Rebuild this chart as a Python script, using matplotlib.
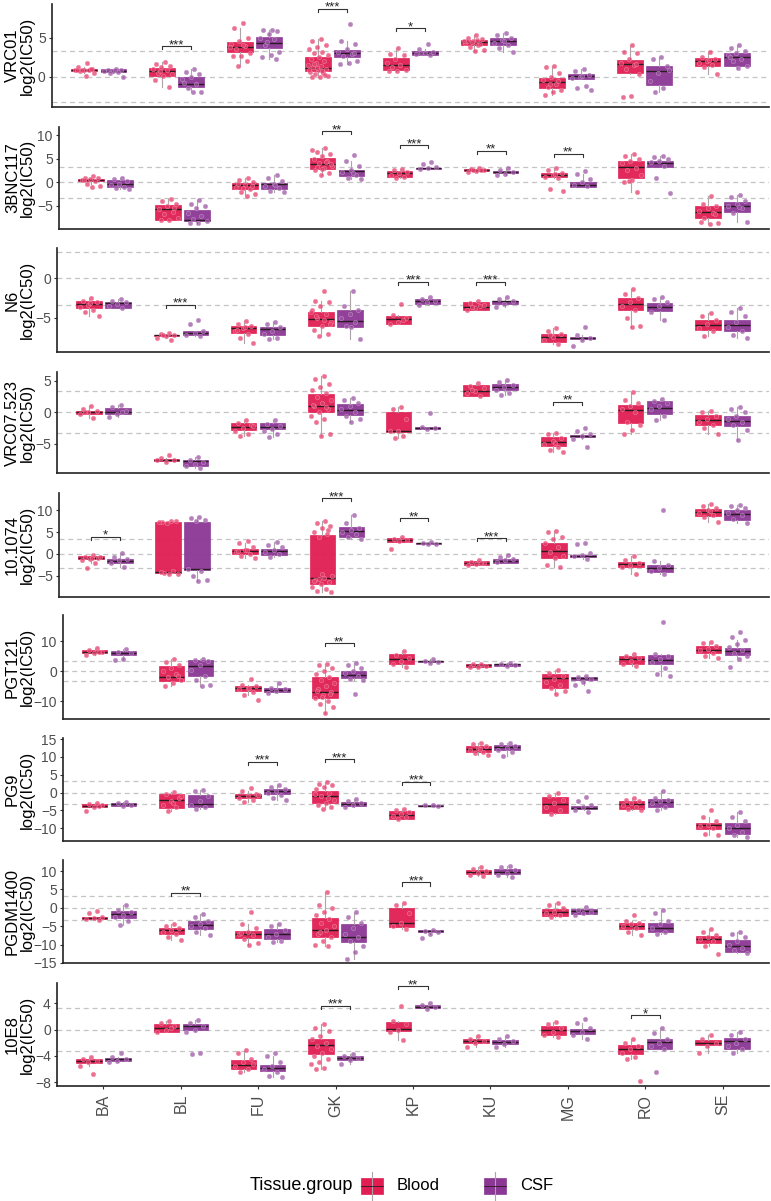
import matplotlib
matplotlib.use("Agg")
import matplotlib.pyplot as plt
import numpy as np
from matplotlib.patches import Rectangle

plt.rcParams['font.family'] = ['Liberation Sans', 'DejaVu Sans']

groups = ['BA', 'BL', 'FU', 'GK', 'KP', 'KU', 'MG', 'RO', 'SE']
tissues = ['Blood', 'CSF']
colors = {'Blood': '#E11D52', 'CSF': '#8B3794'}
cutoff = np.log2(10)

# ---------------- VRC01 ----------------
vrc01_blood_box = [(0.75, 0.85, 0.95), (0.1, 0.77, 1.15), (3.2, 3.85, 4.4), (0.65, 1.07, 2.5), (0.85, 1.5, 2.35),
                   (4.0, 4.4, 4.7), (-1.5, -0.65, -0.2), (0.5, 1.6, 2.15), (1.4, 2.0, 2.35)]
vrc01_csf_box = [(0.6, 0.75, 0.95), (-1.4, -0.95, -0.1), (3.7, 4.35, 5.1), (2.5, 3.0, 3.4), (2.8, 3.0, 3.25),
                 (4.0, 4.5, 4.9), (-0.25, 0.05, 0.35), (-1.05, 0.7, 1.4), (1.4, 2.5, 3.0)]
vrc01_blood_pts = [[1.7, 1.2, 1.0, 0.9, 0.85, 0.8, 0.7, 0.5, 0.1, 0.9, 0.95, 0.8],
                   [1.9, 1.6, 1.4, 1.2, 1.0, 0.8, 0.5, 0.3, 0.1, -0.5, -1.4, 0.7],
                   [6.9, 6.2, 5.0, 4.5, 4.2, 3.9, 3.5, 3.0, 2.6, 2.6, 2.0, 1.4, 3.8, 4.1],
                   [4.8, 4.5, 4.0, 3.8, 3.5, 3.2, 3.0, 2.8, 2.5, 2.2, 2.0, 1.8, 1.5, 1.3, 1.2, 1.0, 0.8, 0.6, 0.5, 0.3,
                    0.1, 0.0, -0.1, 0.2, 1.1, 0.9, 0.7, 1.6],
                   [3.7, 2.9, 2.8, 2.2, 1.8, 1.5, 1.2, 0.9, 0.7, 0.7],
                   [5.3, 5.0, 4.8, 4.5, 4.3, 4.0, 3.8, 3.4, 3.3, 4.6, 4.2, 4.4, 4.5, 4.7],
                   [1.3, 1.2, 0.5, 0.0, -0.5, -0.9, -1.3, -1.7, -2.0, -2.3, -0.6, -1.0],
                   [4.0, 3.2, 3.0, 2.2, 1.8, 1.5, 1.0, 0.3, -2.5, -2.6, 1.6],
                   [3.2, 2.5, 2.2, 2.0, 1.7, 1.5, 1.2, 0.3, 2.1]]
vrc01_csf_pts = [[1.0, 0.9, 0.8, 0.75, 0.7, 0.6, 0.4, -0.05, 0.85],
                 [1.0, 0.6, 0.3, 0.0, -0.3, -1.0, -1.5, -2.0, -2.0, -0.8],
                 [6.0, 6.0, 5.8, 5.5, 5.0, 4.8, 4.0, 3.2, 2.8, 2.5, 2.2, 4.4],
                 [6.7, 4.5, 4.2, 3.5, 3.1, 2.9, 2.6, 2.0, 1.8, 1.6, 3.0],
                 [4.2, 3.5, 3.1, 3.0, 2.9, 2.8, 3.0],
                 [5.6, 5.3, 5.0, 4.7, 4.3, 4.0, 3.6, 3.2, 4.5],
                 [1.0, 0.7, 0.2, 0.0, -0.2, -1.2, -1.5, -1.7, 0.1],
                 [2.5, 2.2, 1.3, 0.5, -0.6, -1.5, -2.0, 0.8],
                 [4.0, 3.6, 3.3, 3.0, 2.7, 2.3, 2.0, 1.4, 1.1, 2.5]]
vrc01_sig = [('BL', '***', 3.9), ('GK', '***', 8.7), ('KP', '*', 6.2)]

# ---------------- 3BNC117 ----------------
bnc_blood_box = [(0.3, 0.5, 0.7), (-8.0, -5.7, -4.8), (-1.5, -0.55, -0.2), (2.8, 3.9, 5.1), (1.05, 1.9, 2.45),
                 (2.3, 2.5, 2.75), (1.05, 1.55, 1.9), (0.85, 3.3, 4.45), (-7.6, -6.3, -5.1)]
bnc_csf_box = [(-0.9, -0.4, 0.5), (-8.2, -8.0, -5.85), (-1.4, -0.45, -0.1), (1.4, 2.45, 2.7), (2.85, 2.95, 3.05),
               (2.05, 2.2, 2.45), (-0.9, -0.55, 0.15), (3.3, 4.0, 4.45), (-6.3, -5.1, -4.1)]
bnc_blood_pts = [[1.3, 1.0, 0.8, 0.6, 0.5, 0.3, -0.3, -0.8, -0.9, 0.4],
                 [-3.6, -4.0, -4.5, -5.0, -5.7, -6.2, -6.8, -7.5, -8.0, -8.0, -5.5],
                 [1.0, 0.5, 0.0, -0.5, -1.0, -1.5, -2.0, -2.5, -3.0, -0.3, -0.8, -1.2],
                 [7.3, 6.5, 6.0, 5.5, 5.0, 4.5, 4.0, 3.5, 3.0, 2.5, 2.0, 1.5, 6.8, 4.2, 3.2, 3.8, 2.8],
                 [2.8, 2.5, 2.2, 1.9, 1.5, 1.2, 1.0],
                 [3.0, 2.8, 2.6, 2.4, 2.2, 2.5, 2.7],
                 [3.0, 2.5, 2.0, 1.5, 1.2, 1.0, -1.4, -1.9, 1.7],
                 [6.0, 5.5, 5.0, 4.5, 4.0, 3.0, 2.5, 1.5, 0.5, 0.0, -2.0, 0.2],
                 [-2.9, -4.5, -5.0, -5.5, -6.0, -6.5, -7.5, -8.7, -8.8, -8.5, -6.8]]
bnc_csf_pts = [[1.0, 0.7, 0.2, -0.3, -0.6, -0.9, -1.2, -1.5],
               [-3.8, -4.5, -5.0, -5.5, -6.5, -7.2, -7.8, -8.2, -8.6, -8.6],
               [1.6, 0.8, 0.3, -0.3, -0.8, -1.3, -1.8, -2.0, -0.5],
               [5.8, 4.5, 3.5, 2.5, 2.2, 1.5, 1.0, 0.6, 2.0],
               [4.3, 3.8, 3.3, 3.0, 2.9],
               [3.0, 2.6, 2.2, 1.8, 1.6],
               [2.3, 1.7, 0.7, 0.0, -0.5, -0.8],
               [5.5, 5.3, 5.0, 4.5, 4.2, 3.5, 1.0, -2.3],
               [-2.7, -3.2, -4.0, -4.5, -5.0, -5.5, -6.5, -8.5, -5.2]]
bnc_sig = [('GK', '**', 10.8), ('KP', '***', 7.8), ('KU', '**', 6.7), ('MG', '**', 6.0)]

# ---------------- N6 ----------------
n6_blood_box = [(-3.75, -3.2, -2.9), (-7.3, -7.2, -7.15), (-6.9, -6.3, -6.0), (-6.0, -5.1, -4.3), (-5.7, -5.1, -4.8),
                (-4.05, -3.55, -3.0), (-8.05, -7.4, -7.0), (-4.0, -3.2, -2.5), (-6.5, -5.85, -5.25)]
n6_csf_box = [(-3.75, -3.1, -3.0), (-7.1, -6.9, -6.7), (-7.1, -6.45, -6.1), (-6.1, -5.35, -4.05), (-3.2, -2.8, -2.55),
              (-3.2, -2.9, -2.8), (-7.6, -7.5, -7.4), (-4.15, -3.55, -3.1), (-6.7, -5.9, -5.2)]
n6_blood_pts = [[-2.5, -2.8, -3.0, -3.3, -3.6, -4.0, -4.3, -4.7, -3.1],
                [-6.9, -7.0, -7.2, -7.3, -7.5, -7.8, -7.2],
                [-5.4, -5.8, -6.0, -6.3, -6.6, -7.0, -7.5, -8.2, -6.2, -6.5],
                [-1.6, -2.8, -3.0, -3.5, -4.0, -4.5, -5.0, -5.5, -6.0, -6.5, -7.0, -7.3, -4.2, -5.2, -4.8, -5.8],
                [-3.2, -4.6, -5.0, -5.5, -5.8, -5.2],
                [-2.8, -3.1, -3.4, -3.7, -4.0, -3.5, -3.6],
                [-6.3, -6.6, -7.0, -7.4, -7.8, -8.3, -7.2],
                [-1.3, -2.0, -2.5, -3.0, -3.5, -4.0, -5.0, -6.0, -6.1],
                [-4.4, -4.8, -5.3, -5.8, -6.3, -6.7, -7.3]]
n6_csf_pts = [[-2.6, -2.8, -3.0, -3.2, -3.5, -3.7],
              [-5.3, -5.8, -6.7, -6.9, -7.1, -7.3],
              [-5.5, -5.8, -6.2, -6.6, -7.0, -7.5, -7.7],
              [-1.6, -3.5, -4.0, -4.5, -5.0, -5.5, -6.0, -7.7, -6.2],
              [-2.4, -2.6, -2.8, -3.0, -3.3],
              [-2.3, -2.6, -2.9, -3.2, -3.6],
              [-6.2, -7.2, -7.5, -7.8, -8.5],
              [-2.4, -2.6, -3.0, -3.5, -4.3, -5.3],
              [-3.7, -4.3, -4.8, -5.5, -6.2, -6.7, -7.2, -7.5]]
n6_sig = [('BL', '***', -3.3), ('KP', '***', -0.4), ('KU', '***', -0.4)]

# ---------------- VRC07.523 ----------------
vrc07_blood_box = [(-0.25, 0.0, 0.25), (-7.75, -7.6, -7.4), (-2.8, -2.25, -1.6), (0.1, 1.0, 2.85), (-3.05, -2.9, 0.1),
                   (2.6, 3.4, 4.3), (-5.4, -4.75, -3.95), (-1.6, 0.45, 1.15), (-2.0, -1.2, -0.4)]
vrc07_csf_box = [(-0.25, 0.1, 0.65), (-8.45, -7.7, -7.5), (-2.7, -2.25, -1.75), (-0.4, 0.35, 1.4), (-2.6, -2.4, -2.25),
                 (3.6, 4.05, 4.45), (-3.85, -3.75, -3.6), (-0.25, 0.75, 1.8), (-2.15, -1.3, -0.5)]
vrc07_blood_pts = [[1.0, 0.6, 0.3, 0.0, -0.3, -0.9, 0.1],
                   [-6.8, -7.3, -7.6, -7.8, -7.5],
                   [-1.2, -1.6, -2.0, -2.5, -3.0, -3.5, -3.7, -2.2],
                   [5.7, 5.3, 4.5, 4.0, 3.5, 3.0, 2.5, 2.0, 1.5, 1.0, 0.5, 0.0, -0.5, -1.0, -1.5, -3.5, -3.8, 1.2, 0.8],
                   [0.8, 0.5, -1.0, -2.9, -3.0, -3.8, -4.1],
                   [4.6, 4.2, 3.8, 3.4, 3.0, 2.6, 3.6],
                   [-3.2, -3.5, -4.0, -4.5, -5.0, -5.5, -6.0, -6.3, -4.8],
                   [3.2, 2.0, 1.5, 1.0, 0.5, 0.0, -1.5, -2.0, -2.8, -3.4],
                   [0.3, 0.0, -0.5, -1.0, -1.5, -2.0, -2.5, -3.5]]
vrc07_csf_pts = [[1.1, 0.8, 0.3, -0.2, -0.7, 0.1],
                 [-7.1, -7.5, -7.8, -8.1, -8.5, -8.8],
                 [-1.2, -1.8, -2.2, -2.6, -3.0, -3.5, -3.9],
                 [2.3, 2.0, 1.5, 1.0, 0.5, 0.0, -0.6, -1.1, -1.5],
                 [-0.1, -2.3, -2.5, -2.6],
                 [5.2, 4.8, 4.4, 4.0, 3.5, 3.0, 2.8],
                 [-2.5, -3.0, -3.5, -3.8, -4.2, -5.5],
                 [2.2, 1.8, 1.5, 1.0, 0.5, -0.5, -1.2],
                 [0.8, 0.5, 0.0, -0.5, -1.0, -1.5, -2.0, -2.8, -4.4]]
vrc07_sig = [('MG', '**', 1.7)]

# ---------------- 10.1074 ----------------
ab1074_blood_box = [(-1.25, -0.85, -0.45), (-4.45, -4.1, 7.45), (0.0, 0.75, 1.15), (-6.9, -5.6, 4.25), (2.85, 3.2, 3.6),
                    (-2.5, -2.0, -1.6), (-0.85, 0.75, 2.6), (-3.1, -2.4, -1.8), (8.8, 9.6, 10.4)]
ab1074_csf_box = [(-2.15, -1.55, -1.1), (-3.6, -3.5, 7.45), (-0.2, 0.75, 1.15), (4.0, 5.3, 6.1), (2.2, 2.45, 2.6),
                  (-2.0, -1.55, -1.15), (-0.6, -0.4, -0.25), (-4.1, -3.3, -2.55), (7.85, 9.2, 10.15)]
ab1074_blood_pts = [[-0.3, -0.6, -0.9, -1.2, -1.5, -2.0, -3.3, -0.8, -1.0],
                    [7.5, 7.3, 7.6, 7.2, 7.4, -4.0, -4.3, -4.6, -4.5, -4.2],
                    [3.0, 2.5, 1.5, 1.0, 0.5, 0.0, -0.5, -1.0, 0.8, 0.6],
                    [7.5, 7.0, 6.5, 6.0, 5.0, 4.5, 4.0, -5.0, -5.5, -6.0, -6.5, -7.0, -7.5, -8.0, -8.5, -8.7, -4.5,
                     -6.3, 5.5, -5.8],
                    [4.0, 3.5, 3.2, 3.0, 1.1],
                    [-1.5, -1.8, -2.0, -2.3, -2.6, -2.1],
                    [5.2, 5.0, 4.0, 3.5, 2.5, 1.5, 0.5, -0.5, -1.0, -2.5, -3.1],
                    [-0.5, -1.5, -2.0, -2.5, -3.0, -4.7],
                    [11.5, 11.0, 10.5, 10.0, 9.5, 9.0, 8.5, 7.3, 9.8]]
ab1074_csf_pts = [[0.3, -0.7, -1.2, -1.5, -2.0, -3.0],
                  [8.5, 8.3, 7.8, 7.5, -3.5, -4.0, -5.0, -6.0, -6.3],
                  [2.7, 2.0, 1.5, 1.0, 0.5, 0.0, -0.6],
                  [8.9, 7.0, 6.0, 5.5, 5.0, 4.5, 4.0, 3.5],
                  [2.7, 2.5, 2.3, 2.2],
                  [-0.3, -0.8, -1.2, -1.5, -1.9],
                  [2.5, 2.2, 0.3, -0.2, -0.5, -1.1],
                  [10.1, -1.6, -2.5, -3.3, -4.0, -4.5],
                  [11.3, 11.0, 10.5, 10.0, 9.5, 9.0, 8.0, 7.2]]
ab1074_sig = [('BA', '*', 4.0), ('GK', '***', 12.8), ('KP', '**', 8.2), ('KU', '***', 3.6)]

# ---------------- PGT121 ----------------
pgt121_blood_box = [(6.05, 6.35, 6.9), (-3.2, -1.85, 1.65), (-6.5, -5.7, -4.95), (-9.0, -7.15, -1.85), (2.2, 3.95, 5.6),
                    (1.4, 2.0, 2.5), (-5.8, -2.4, -1.0), (2.4, 3.95, 5.05), (6.05, 7.15, 8.25)]
pgt121_csf_box = [(5.3, 6.05, 6.6), (-1.65, 1.65, 3.6), (-7.0, -6.25, -5.8), (-2.4, -1.3, 0.1), (2.95, 3.2, 3.5),
                  (1.75, 2.2, 2.5), (-3.0, -2.4, -2.0), (2.4, 3.6, 5.4), (5.4, 6.6, 7.8)]
pgt121_blood_pts = [[7.6, 7.0, 6.5, 6.0, 5.4, 6.3],
                    [4.0, 3.0, 2.0, 1.0, 0.0, -1.0, -2.0, -3.0, -4.0, -5.0, -1.5],
                    [-2.5, -4.5, -5.0, -5.5, -6.0, -7.0, -8.0, -9.5, -5.8],
                    [2.3, 2.0, 1.0, 0.0, -1.0, -2.0, -3.0, -4.0, -5.0, -6.0, -7.0, -8.0, -9.0, -10.0, -11.0, -12.0,
                     -14.0, -6.5, -7.5, -8.5],
                    [6.6, 5.5, 4.5, 3.5, 2.5, 1.5],
                    [2.5, 2.2, 1.8, 1.5, 1.3],
                    [0.5, -0.5, -1.5, -2.5, -3.5, -4.5, -5.5, -6.5, -7.5],
                    [5.8, 5.0, 4.5, 3.5, 2.5, 1.8],
                    [9.8, 9.5, 8.5, 7.5, 7.0, 6.0, 5.0, 4.5]]
pgt121_csf_pts = [[7.2, 6.5, 6.0, 4.0, 3.8],
                  [4.0, 3.8, 3.5, 2.0, 0.5, -1.5, -3.0, -4.5, -5.0],
                  [-4.0, -5.5, -6.0, -6.5, -7.2],
                  [2.6, 2.0, 1.0, 0.0, -0.5, -1.5, -2.5, -3.0, -7.5],
                  [4.0, 3.5, 3.0, 2.7],
                  [2.8, 2.4, 2.0, 1.7],
                  [-1.6, -2.0, -2.5, -3.5, -4.5, -6.5],
                  [16.5, 5.8, 5.0, 4.0, 3.0, 1.0, -1.0, -1.5],
                  [13.0, 11.5, 10.5, 9.0, 8.0, 7.0, 6.0, 5.0, 4.0, 1.5]]
pgt121_sig = [('GK', '**', 9.3)]

# ---------------- PG9 ----------------
pg9_blood_box = [(-4.05, -3.75, -3.3), (-4.25, -2.0, -0.5), (-1.5, -1.05, -0.5), (-2.95, -1.05, 0.4), (-7.35, -6.4, -5.2),
                 (11.5, 12.35, 13.1), (-5.75, -3.3, -1.25), (-4.6, -3.3, -2.45), (-10.3, -9.25, -8.5)]
pg9_csf_box = [(-3.75, -3.3, -2.9), (-4.05, -3.1, -0.75), (-0.3, 0.5, 0.95), (-3.85, -3.1, -2.75), (-3.85, -3.65, -3.4),
               (11.8, 12.75, 13.4), (-4.5, -4.25, -3.85), (-4.05, -2.65, -1.9), (-11.6, -9.9, -8.5)]
pg9_blood_pts = [[-2.8, -3.2, -3.6, -4.0, -5.3, -3.8],
                 [0.2, -0.5, -1.5, -2.5, -3.5, -4.2, -5.2, -1.0, -3.0],
                 [1.2, 0.5, -0.5, -1.0, -1.5, -2.0, -2.7, -0.8],
                 [3.0, 2.5, 2.0, 1.5, 1.0, 0.0, -1.0, -2.0, -3.0, -3.5, -4.0, -4.5, -0.5, -1.5],
                 [-4.5, -5.0, -5.5, -6.0, -6.5, -7.0, -7.5],
                 [14.0, 13.5, 13.0, 12.5, 12.0, 11.5, 11.0, 10.5, 12.2],
                 [0.0, -1.0, -2.0, -3.0, -4.0, -5.0, -6.0],
                 [-1.5, -2.0, -2.5, -3.0, -3.5, -4.0, -4.5, -5.0],
                 [-5.0, -7.0, -8.0, -9.0, -9.5, -10.0, -11.5, -12.0]]
pg9_csf_pts = [[-2.6, -3.0, -3.4, -3.8],
               [0.8, 0.5, -1.0, -2.5, -3.5, -4.0, -4.5],
               [2.2, 1.5, 1.0, 0.5, 0.0, -0.8, -1.5, -2.0],
               [-1.8, -2.5, -3.0, -3.5, -4.0],
               [-3.4, -3.6, -3.8],
               [14.0, 13.5, 13.0, 12.5, 12.0, 11.5, 10.3],
               [-1.3, -2.3, -3.5, -4.2, -5.0, -5.5],
               [0.3, -1.5, -2.0, -2.5, -3.0, -4.0, -5.0],
               [-5.5, -7.0, -8.0, -9.0, -10.0, -11.0, -12.0, -12.5]]
pg9_sig = [('FU', '***', 8.7), ('GK', '***', 9.4), ('KP', '***', 3.0)]

# ---------------- PGDM1400 ----------------
pgdm_blood_box = [(-3.0, -2.7, -2.45), (-7.0, -6.1, -5.45), (-8.2, -7.0, -6.3), (-7.9, -6.1, -2.65), (-5.2, -4.0, 0.0),
                  (9.2, 9.7, 10.25), (-2.3, -1.25, -0.45), (-5.65, -4.9, -4.25), (-9.45, -8.45, -7.65)]
pgdm_csf_box = [(-2.9, -1.55, -0.9), (-5.8, -4.75, -3.65), (-8.35, -7.0, -5.8), (-9.25, -7.9, -4.45), (-6.65, -6.35, -6.1),
                (9.2, 9.8, 10.45), (-1.75, -0.8, -0.2), (-6.5, -5.35, -4.0), (-12.0, -10.3, -8.8)]
pgdm_blood_pts = [[-0.8, -1.5, -2.5, -2.8, -3.0, -3.3],
                  [-4.5, -5.0, -5.5, -6.0, -6.5, -7.0, -8.0, -8.7],
                  [-1.2, -4.5, -5.5, -6.5, -7.0, -7.5, -8.5, -9.5, -10.0, -6.8],
                  [4.4, 0.7, 0.0, -1.0, -2.0, -3.0, -4.0, -5.0, -6.0, -7.0, -8.0, -9.0, -10.0, -10.5, -6.5],
                  [1.2, 0.8, -1.5, -4.0, -5.0, -5.8],
                  [11.2, 10.5, 10.0, 9.5, 9.0, 8.7],
                  [1.2, 0.8, 0.0, -1.0, -1.5, -2.0, -2.5],
                  [-2.0, -3.5, -4.0, -4.5, -5.0, -5.5, -6.5, -7.5],
                  [-5.8, -6.5, -7.5, -8.0, -8.5, -9.0, -10.5, -12.5]]
pgdm_csf_pts = [[0.7, -0.5, -1.2, -2.0, -2.5, -3.5, -4.8],
                [-1.8, -2.5, -3.5, -4.5, -5.0, -5.5, -6.5, -7.3],
                [-4.5, -5.0, -6.0, -7.0, -8.0, -9.0, -9.3],
                [-1.0, -2.5, -4.0, -5.5, -7.0, -8.0, -9.0, -10.5, -12.0, -13.8],
                [-5.9, -6.2, -6.5, -7.0, -8.2],
                [11.5, 11.0, 10.2, 9.6, 9.0, 8.5],
                [0.3, -0.5, -1.0, -1.5, -2.0],
                [-0.5, -1.5, -3.5, -4.5, -5.5, -6.5, -7.2],
                [-6.5, -7.0, -8.0, -9.0, -10.0, -11.0, -11.5, -12.3]]
pgdm_sig = [('BL', '**', 4.1), ('KP', '***', 6.9)]

# ---------------- 10E8 ----------------
e8_blood_box = [(-5.1, -4.8, -4.55), (-0.35, 0.25, 0.9), (-6.0, -5.35, -4.7), (-3.7, -2.3, -1.4), (-0.25, 0.15, 1.2),
                (-2.0, -1.7, -1.4), (-0.85, 0.0, 0.5), (-3.7, -3.0, -2.4), (-2.4, -2.05, -1.65)]
e8_csf_box = [(-4.8, -4.55, -4.35), (0.0, 0.5, 0.9), (-6.35, -5.9, -5.4), (-4.7, -4.35, -4.05), (3.25, 3.5, 3.75),
              (-2.15, -1.85, -1.55), (-0.7, -0.25, 0.15), (-2.9, -1.9, -1.4), (-2.9, -1.8, -1.3)]
e8_blood_pts = [[-4.2, -4.5, -4.8, -5.0, -5.5, -6.8],
                [1.3, 1.0, 0.5, 0.0, -0.3, 0.3],
                [-3.1, -3.5, -4.5, -5.0, -5.5, -6.0, -6.5, -5.3],
                [0.8, 0.2, -0.2, -1.0, -1.5, -2.0, -2.5, -3.0, -3.5, -4.0, -4.5, -5.0, -5.3, -5.8, -6.0],
                [3.6, 1.3, 0.8, 0.0, -0.3, -1.6],
                [-1.0, -1.4, -1.7, -2.0, -2.6],
                [1.2, 0.8, 0.3, -0.3, -0.8, -1.1],
                [-1.5, -2.0, -2.5, -3.0, -3.5, -4.2, -4.5, -7.8],
                [-0.9, -1.5, -2.0, -2.5, -3.5]]
e8_csf_pts = [[-3.5, -4.2, -4.5, -4.8, -5.0],
              [1.5, 1.0, 0.5, 0.0, -0.3, -3.5, -3.7],
              [-3.6, -4.0, -5.0, -5.5, -6.0, -6.5, -7.0, -7.3],
              [-3.7, -4.0, -4.3, -4.7, -5.3],
              [4.0, 3.7, 3.4, 3.2],
              [-1.0, -1.5, -1.8, -2.2, -2.7],
              [1.6, 1.0, 0.3, -0.3, -0.8, -1.5],
              [0.3, -0.5, -1.5, -2.0, -2.5, -3.0, -6.5],
              [-0.3, -0.8, -1.5, -2.0, -2.5, -3.0, -3.5]]
e8_sig = [('GK', '***', 3.6), ('KP', '**', 6.6), ('RO', '*', 2.2)]

panels = [
    ("VRC01", vrc01_blood_box, vrc01_csf_box, vrc01_blood_pts, vrc01_csf_pts, vrc01_sig, (-3.9, 9.3), [0, 5]),
    ("3BNC117", bnc_blood_box, bnc_csf_box, bnc_blood_pts, bnc_csf_pts, bnc_sig, (-9.9, 11.7), [-5, 0, 5, 10]),
    ("N6", n6_blood_box, n6_csf_box, n6_blood_pts, n6_csf_pts, n6_sig, (-9.3, 3.85), [-5, 0]),
    ("VRC07.523", vrc07_blood_box, vrc07_csf_box, vrc07_blood_pts, vrc07_csf_pts, vrc07_sig, (-9.6, 6.4), [-5, 0, 5]),
    ("10.1074", ab1074_blood_box, ab1074_csf_box, ab1074_blood_pts, ab1074_csf_pts, ab1074_sig, (-9.9, 14),
     [-5, 0, 5, 10]),
    ("PGT121", pgt121_blood_box, pgt121_csf_box, pgt121_blood_pts, pgt121_csf_pts, pgt121_sig, (-16, 18.7),
     [-10, 0, 10]),
    ("PG9", pg9_blood_box, pg9_csf_box, pg9_blood_pts, pg9_csf_pts, pg9_sig, (-13.6, 15.3),
     [-10, -5, 0, 5, 10, 15]),
    ("PGDM1400", pgdm_blood_box, pgdm_csf_box, pgdm_blood_pts, pgdm_csf_pts, pgdm_sig, (-15, 13),
     [-15, -10, -5, 0, 5, 10]),
    ("10E8", e8_blood_box, e8_csf_box, e8_blood_pts, e8_csf_pts, e8_sig, (-8.6, 7.1), [-8, -4, 0, 4]),
]

# layout in pixels (top, bottom, left) for each panel
W, H = 771, 1201
panel_tops = [4, 127, 248, 372, 493, 615, 738, 860, 983]
panel_bottoms = [107, 229, 352, 473, 597, 719, 841, 963, 1086]
panel_lefts = [52, 59, 57, 57, 59, 63, 63, 63, 57]
panel_right = 769

fig = plt.figure(figsize=(W / 100, H / 100), dpi=100)
fig.patch.set_facecolor('white')

dodge = 0.1875
box_w = 0.33


def whisker_limits(pts, q1, q3):
    p = np.array(pts)
    iqr = q3 - q1
    inside = p[(p >= q1 - 1.5 * iqr) & (p <= q3 + 1.5 * iqr)]
    if len(inside) == 0:
        return q1, q3
    return min(inside.min(), q1), max(inside.max(), q3)


def lighten(hexcol, f):
    c = np.array(matplotlib.colors.to_rgb(hexcol))
    return tuple(c + (1 - c) * f)


x = np.arange(1, len(groups) + 1)

for i, (name, bbox, cbox, bpts, cpts, sig, ylim, yticks) in enumerate(panels):
    left, top, bottom = panel_lefts[i], panel_tops[i], panel_bottoms[i]
    ax = fig.add_axes([left / W, 1 - bottom / H, (panel_right - left) / W, (bottom - top) / H])

    for yy in [cutoff, 0, -cutoff]:
        ax.axhline(yy, color='#C4C4C4', lw=0.9, ls=(0, (4, 3)), zorder=0)

    for tissue, boxes, pts, off in [('Blood', bbox, bpts, -dodge), ('CSF', cbox, cpts, dodge)]:
        col = colors[tissue]
        stats = []
        for (q1, med, q3), p in zip(boxes, pts):
            lo, hi = whisker_limits(p, q1, q3)
            stats.append({'q1': q1, 'med': med, 'q3': q3, 'whislo': lo, 'whishi': hi, 'fliers': []})
        ax.bxp(stats, positions=x + off, widths=box_w, patch_artist=True, showfliers=False, showcaps=False,
               boxprops=dict(facecolor=col, edgecolor=col, linewidth=0.5, alpha=0.95),
               medianprops=dict(color='#2a1a22', linewidth=1.0),
               whiskerprops=dict(color='#AFA3AA', linewidth=0.8), zorder=2)
        for g, p in zip(x, pts):
            n = len(p)
            jit = (((np.arange(n) + 1) * 0.6180339887) % 1 - 0.5) * 0.28
            ax.scatter(g + off + jit, p, s=10, facecolor=lighten(col, 0.15), edgecolor=lighten(col, 0.45),
                       linewidths=0.5, alpha=0.75, zorder=3)

    rng = ylim[1] - ylim[0]
    for g, stars, yb in sig:
        gx = groups.index(g) + 1
        t = 0.03 * rng
        ax.plot([gx - dodge, gx - dodge, gx + dodge, gx + dodge], [yb - t, yb, yb, yb - t],
                color='#333333', lw=0.8, zorder=4)
        ax.text(gx, yb + 0.01 * rng, stars, ha='center', va='center', fontsize=9.5, color='#222222', zorder=4)

    ax.set_xlim(0.4, 9.6)
    ax.set_ylim(*ylim)
    ax.set_yticks(yticks)
    ax.tick_params(axis='y', labelsize=10, labelcolor='#4D4D4D', color='#333333', length=2.5, width=0.8, pad=2)
    for s in ['top', 'right']:
        ax.spines[s].set_visible(False)
    for s in ['left', 'bottom']:
        ax.spines[s].set_color('#222222')
        ax.spines[s].set_linewidth(1.2)
    if i == len(panels) - 1:
        ax.set_xticks(x)
        ax.set_xticklabels(groups, rotation=90, fontsize=11.5, color='#4D4D4D')
        ax.tick_params(axis='x', color='#333333', length=2.5, width=0.8, pad=3)
    else:
        ax.set_xticks([])
    fig.text(20 / W, 1 - (top + bottom) / 2 / H, f"{name}\nlog2(IC50)", rotation=90, ha='center', va='center',
             fontsize=12, linespacing=1.0, color='black')

# legend drawn at the bottom
lax = fig.add_axes([0, 0, 1, 1], facecolor='none')
lax.set_xlim(0, W)
lax.set_ylim(H, 0)
lax.axis('off')
lax.text(250, 1186, 'Tissue.group', fontsize=13, va='center', ha='left')
for tissue, x0 in [('Blood', 361), ('CSF', 484)]:
    col = colors[tissue]
    lax.plot([x0 + 11, x0 + 11], [1172, 1200], color='#AFA3AA', lw=0.8)
    lax.add_patch(Rectangle((x0, 1178), 22, 16, facecolor=col, edgecolor=col, lw=0.5))
    lax.plot([x0, x0 + 22], [1186, 1186], color='#2a1a22', lw=0.6)
    lax.text(x0 + 36, 1186, tissue, fontsize=12, va='center', ha='left')

fig.savefig('out.png', dpi=100, facecolor='white')
